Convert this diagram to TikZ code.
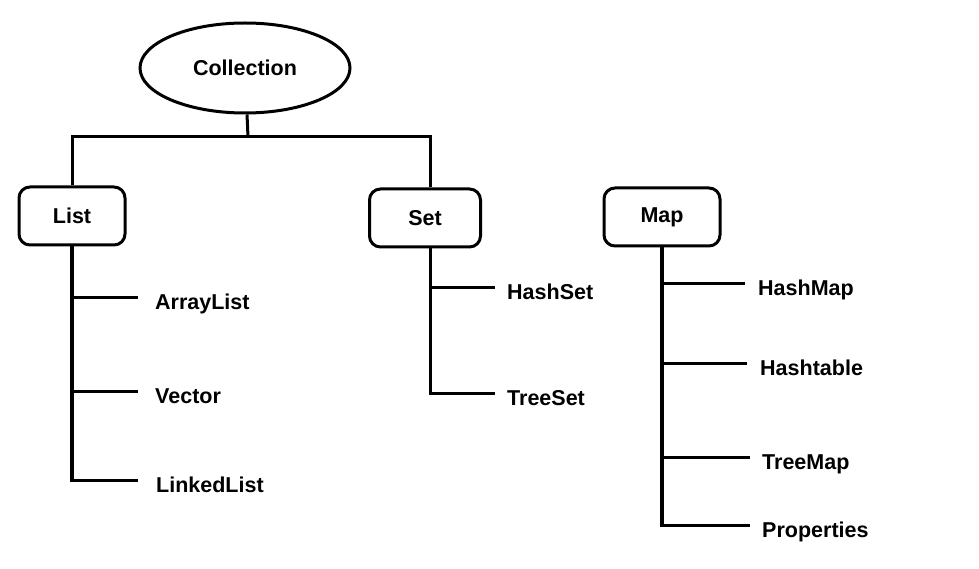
\documentclass[tikz,border=0pt]{standalone}
\usepackage{fontspec}
\setmainfont{Liberation Sans}
\usetikzlibrary{shapes.geometric,positioning}

\begin{document}
\begin{tikzpicture}[
    x=1pt, y=-1pt,
    every node/.style={font=\fontsize{21.5}{25}\selectfont\bfseries},
    root/.style={draw, ellipse, line width=3pt, minimum width=210pt, minimum height=90pt, inner sep=0pt},
    box/.style={draw, rounded corners=11pt, line width=3pt, minimum width=#1, minimum height=58pt, inner sep=0pt},
    item/.style={anchor=west, inner sep=0pt, text height=25pt, text depth=0pt},
    trunk/.style={line width=#1, line cap=butt},
    trunk/.default=3.5pt,
    branch/.style={line width=3pt, shorten >=#1},
    branch/.default=13pt
]
\useasboundingbox (0,0) rectangle (979,569);

% top level
\node[root] (coll) at (245,68) {Collection};
\node[box=106pt] (list) at (72,216) {List};
\node[box=111pt] (set) at (425,218) {Set};
\node[box=116pt] (map) at (662,217) {Map};

\coordinate (join) at (248,137);
\draw[trunk=3pt] (coll) -- (join);
\draw[trunk=3pt] (list) -- (list |- join) -- (join) -- ([xshift=5pt]set.north |- join) -- ([xshift=5pt]set.north);

% List branch
\node[item] (alist) at (155,297) {ArrayList};
\node[item] (vec)   at (155,391) {Vector};
\node[item] (llist) at (156,480) {LinkedList};
\draw[trunk=4pt] (list) -- ([yshift=-2pt]list |- llist);
\draw[branch=17pt] (list |- alist) -- (alist.west);
\draw[branch=17pt] (list |- vec) -- (vec.west);
\draw[branch=18pt] ([xshift=-2pt]list |- llist) -- (llist.west);

% Set branch
\node[item] (hset) at (507,287) {HashSet};
\node[item] (tset) at (507,393) {TreeSet};
\draw[trunk=3pt] ([xshift=5pt]set.south) -- ([xshift=5pt,yshift=-1.5pt]set.south |- tset);
\draw[branch=12pt] ([xshift=5pt]set.south |- hset) -- (hset.west);
\draw[branch=12pt] ([xshift=3.5pt]set.south |- tset) -- (tset.west);

% Map branch
\node[item] (hmap)  at (758,283) {HashMap};
\node[item] (htab)  at (760,363) {Hashtable};
\node[item] (tmap)  at (762,457) {TreeMap};
\node[item] (props) at (762,525) {Properties};
\draw[trunk=3.5pt] (map) -- ([yshift=-1.5pt]map |- props);
\draw[branch] (map |- hmap) -- (hmap.west);
\draw[branch] (map |- htab) -- (htab.west);
\draw[branch=12pt] (map |- tmap) -- (tmap.west);
\draw[branch=12pt] ([xshift=-1.7pt]map |- props) -- (props.west);
\end{tikzpicture}
\end{document}
